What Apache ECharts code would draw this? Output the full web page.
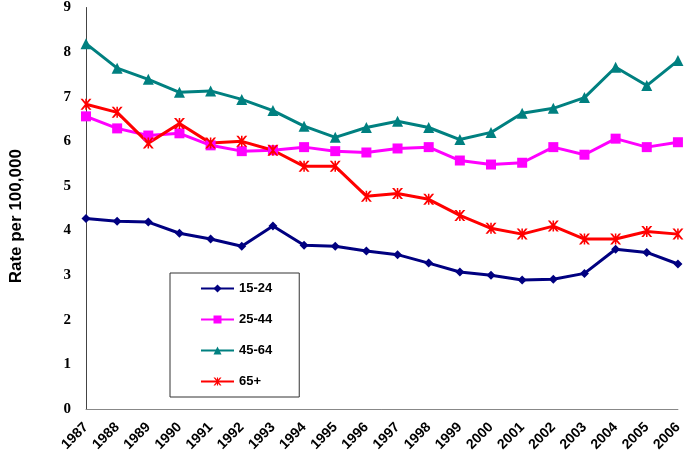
<!DOCTYPE html>
<html>
<head>
<meta charset="utf-8">
<script src="https://cdn.jsdelivr.net/npm/echarts@6/dist/echarts.min.js"></script>
<style>html,body{margin:0;padding:0;background:#fff}#c{width:685px;height:465px}</style>
</head>
<body>
<div id="c"></div>
<script>
var years = ['1987','1988','1989','1990','1991','1992','1993','1994','1995','1996','1997','1998','1999','2000','2001','2002','2003','2004','2005','2006'];
var s15_24 = [4.27,4.21,4.19,3.94,3.81,3.65,4.10,3.67,3.65,3.54,3.46,3.27,3.07,3.00,2.89,2.91,3.04,3.58,3.51,3.25];
var s25_44 = [6.56,6.29,6.13,6.18,5.91,5.78,5.80,5.87,5.78,5.75,5.84,5.87,5.57,5.48,5.52,5.87,5.70,6.06,5.87,5.98];
var s45_64 = [8.19,7.64,7.39,7.10,7.13,6.94,6.69,6.34,6.09,6.31,6.45,6.31,6.04,6.20,6.63,6.74,6.98,7.66,7.25,7.81];
var s65 = [6.83,6.65,5.96,6.40,5.96,6.00,5.80,5.44,5.44,4.77,4.83,4.70,4.34,4.05,3.92,4.10,3.81,3.81,3.98,3.92];
var seriesNames = ['15-24','25-44','45-64','65+'];
var yTicks = [0,1,2,3,4,5,6,7,8,9];

var xPath = 'path://M0,0 L2,0 L5,3.5 L8,0 L10,0 L6,5 L10,10 L8,10 L5,6.5 L2,10 L0,10 L4,5 Z M4.3,0 L5.7,0 L5.7,10 L4.3,10 Z';

function mk(name, data, color, symbol, size) {
  return {
    name: name, type: 'line', data: data,
    symbol: symbol, symbolSize: size, showSymbol: true,
    lineStyle: { color: color, width: 3 },
    itemStyle: { color: color },
    emphasis: { disabled: true },
    animation: false
  };
}

var chart = echarts.init(document.getElementById('c'));
chart.setOption({
  animation: false,
  grid: { left: 78, right: 4, top: 7, bottom: 56 },
  legend: {
    orient: 'vertical',
    left: 170, top: 273,
    data: seriesNames,
    borderColor: '#333', borderWidth: 1,
    padding: [9, 27, 9, 30],
    itemGap: 18,
    itemWidth: 33, itemHeight: 10,
    textStyle: { fontFamily: 'Liberation Sans, Arial', fontWeight: 'bold', fontSize: 13, color: '#000' }
  },
  xAxis: {
    type: 'category', data: years, boundaryGap: false,
    axisLine: { lineStyle: { color: '#888', width: 1 } },
    axisTick: { show: false },
    axisLabel: { rotate: 45, interval: 0, margin: 16, color: '#000', fontWeight: 'bold', fontSize: 14, fontFamily: 'Liberation Sans, Arial' }
  },
  yAxis: {
    type: 'value', min: yTicks[0], max: yTicks[yTicks.length - 1], interval: 1,
    name: 'Rate per 100,000', nameLocation: 'middle', nameGap: 61, nameRotate: 90,
    nameTextStyle: { color: '#000', fontWeight: 'bold', fontSize: 17, fontFamily: 'Liberation Sans, Arial', padding: [0, 16, 0, 0] },
    axisLine: { show: true, lineStyle: { color: '#444', width: 1 } },
    axisTick: { show: false },
    splitLine: { show: false },
    axisLabel: { color: '#000', fontWeight: 'bold', fontSize: 15, margin: 15, fontFamily: 'Liberation Serif, Times New Roman' }
  },
  series: [
    mk(seriesNames[0], s15_24, '#000080', 'diamond', 9),
    mk(seriesNames[1], s25_44, '#FF00FF', 'rect', 10),
    mk(seriesNames[2], s45_64, '#008080', 'triangle', 11),
    mk(seriesNames[3], s65, '#FF0000', xPath, 11)
  ]
});
</script>
</body>
</html>
